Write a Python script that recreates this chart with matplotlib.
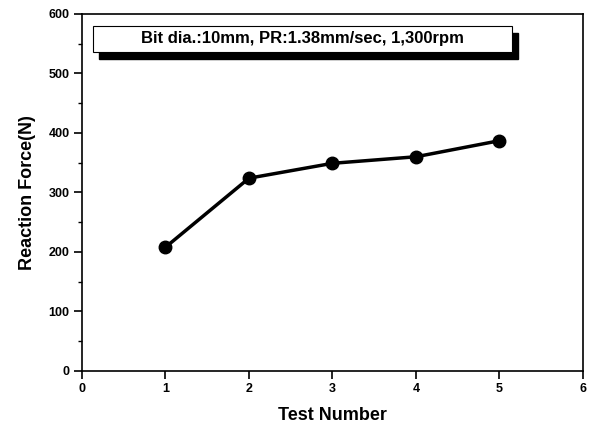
import matplotlib
matplotlib.use("Agg")
import matplotlib.pyplot as plt
from matplotlib.patches import Rectangle
from matplotlib.ticker import MultipleLocator

test_number = [1, 2, 3, 4, 5]
reaction_force = [208, 324, 349, 360, 387]
x_ticks = [0, 1, 2, 3, 4, 5, 6]
y_ticks = [0, 100, 200, 300, 400, 500, 600]
box_text = "Bit dia.:10mm, PR:1.38mm/sec, 1,300rpm"

plt.rcParams['font.family'] = ['Liberation Sans', 'DejaVu Sans']
plt.rcParams['font.weight'] = 'bold'

fig = plt.figure(figsize=(5.9, 4.23), dpi=100)
ax = fig.add_axes([0.139, 0.123, 0.849, 0.844])

ax.plot(test_number, reaction_force, color='black', lw=2.5, marker='o',
        markersize=9, markerfacecolor='black', markeredgecolor='black')

ax.set_xlim(0, 6)
ax.set_ylim(0, 600)
ax.set_xticks(x_ticks)
ax.set_yticks(y_ticks)
ax.yaxis.set_minor_locator(MultipleLocator(50))
ax.tick_params(axis='both', which='major', direction='out', length=5.5, width=1.2,
               labelsize=9, top=False, right=False)
ax.tick_params(axis='y', which='minor', direction='out', length=3, width=1.0)
for lab in ax.get_xticklabels() + ax.get_yticklabels():
    lab.set_fontweight('bold')
for s in ax.spines.values():
    s.set_linewidth(1.2)

ax.set_xlabel("Test Number", fontsize=13, fontweight='bold', labelpad=8)
ax.set_ylabel("Reaction Force(N)", fontsize=13, fontweight='bold', labelpad=9)

# legend-like text box with shadow
bx0, by0, bw, bh = 0.022, 0.894, 0.836, 0.073
dx, dy = 0.012, -0.019
ax.add_patch(Rectangle((bx0 + dx, by0 + dy), bw, bh, transform=ax.transAxes,
                       facecolor='black', edgecolor='black', zorder=4, clip_on=False))
ax.add_patch(Rectangle((bx0, by0), bw, bh, transform=ax.transAxes,
                       facecolor='white', edgecolor='black', lw=0.8, zorder=5, clip_on=False))
ax.text(bx0 + bw / 2, by0 + bh / 2, box_text, transform=ax.transAxes,
        ha='center', va='center', fontsize=12, fontweight='bold', zorder=6)

fig.savefig("out.png", dpi=100)
